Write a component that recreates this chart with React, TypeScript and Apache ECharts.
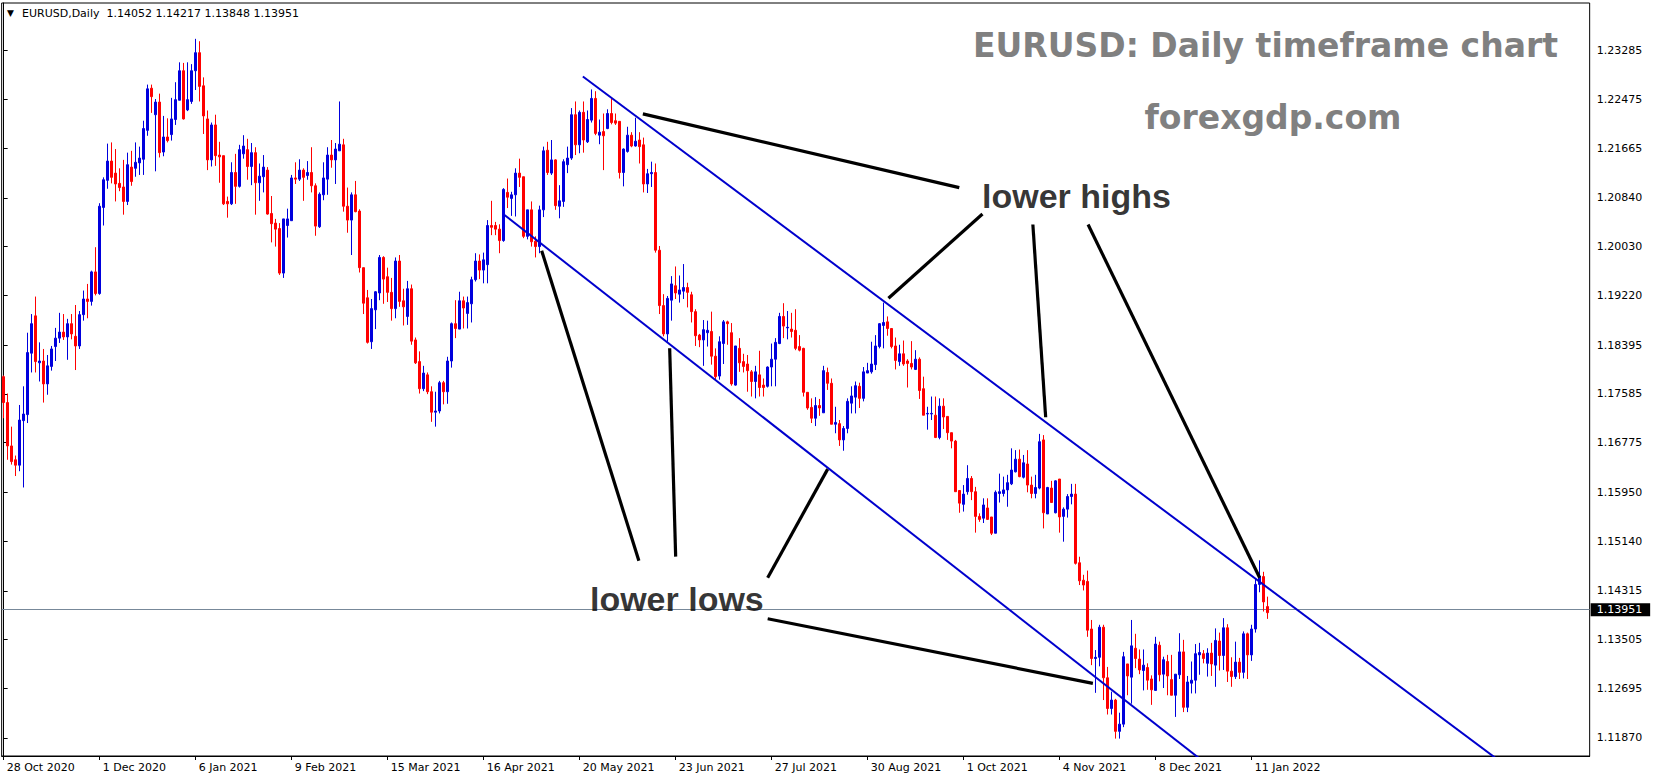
import React, { useEffect, useRef } from 'react';
import * as echarts from 'echarts';

// ---------- data ----------
const tickLabels = ['28 Oct 2020', '1 Dec 2020', '6 Jan 2021', '9 Feb 2021', '15 Mar 2021', '16 Apr 2021', '20 May 2021', '23 Jun 2021', '27 Jul 2021', '30 Aug 2021', '1 Oct 2021', '4 Nov 2021', '8 Dec 2021', '11 Jan 2022'];
const labelEvery = 24;
const slotCount = 397; // bars + empty space to the right (chart shift)

const priceTicks = [1.23285, 1.22475, 1.21665, 1.2084, 1.2003, 1.1922, 1.18395, 1.17585, 1.16775, 1.1595, 1.1514, 1.14315, 1.13505, 1.12695, 1.1187];
const priceMin = 1.11571;
const priceMax = 1.24075;
const lastPrice = 1.13951;
const headerText = 'EURUSD,Daily  1.14052 1.14217 1.13848 1.13951';

const opens = [
  1.1787, 1.1744, 1.1672, 1.1649, 1.1640, 1.1714, 1.1724, 1.1826, 1.1888, 1.1810,
  1.1813, 1.1775, 1.1804, 1.1837, 1.1851, 1.1861, 1.1853, 1.1875, 1.1854, 1.1838,
  1.1890, 1.1916, 1.1912, 1.1961, 1.1925, 1.2068, 1.2113, 1.2145, 1.2125, 1.2108,
  1.2102, 1.2078, 1.2135, 1.2133, 1.2142, 1.2148, 1.2196, 1.2266, 1.2222, 1.2243,
  1.2160, 1.2185, 1.2189, 1.2214, 1.2246, 1.2295, 1.2230, 1.2244, 1.2295, 1.2325,
  1.2270, 1.2215, 1.2147, 1.2205, 1.2155, 1.2154, 1.2078, 1.2074, 1.2126, 1.2103,
  1.2157, 1.2164, 1.2136, 1.2159, 1.2109, 1.2119, 1.2130, 1.2058, 1.2042, 1.2033,
  1.1959, 1.2038, 1.2046, 1.2117, 1.2115, 1.2130, 1.2121, 1.2126, 1.2104, 1.2036,
  1.2089, 1.2115, 1.2155, 1.2147, 1.2162, 1.2172, 1.2070, 1.2047, 1.2089, 1.2062,
  1.1968, 1.1918, 1.1845, 1.1898, 1.1926, 1.1985, 1.1953, 1.1927, 1.1900, 1.1979,
  1.1913, 1.1887, 1.1933, 1.1848, 1.1812, 1.1767, 1.1790, 1.1762, 1.1728, 1.1730,
  1.1777, 1.1762, 1.1813, 1.1875, 1.1866, 1.1913, 1.1892, 1.1908, 1.1948, 1.1979,
  1.1964, 1.1973, 1.2038, 1.2038, 1.2032, 1.2013, 1.2093, 1.2083, 1.2089, 1.2125,
  1.2119, 1.2020, 1.2064, 1.2012, 1.2003, 1.2064, 1.2163, 1.2125, 1.2147, 1.2070,
  1.2078, 1.2139, 1.2150, 1.2222, 1.2172, 1.2226, 1.2177, 1.2213, 1.2249, 1.2188,
  1.2194, 1.2199, 1.2224, 1.2212, 1.2211, 1.2126, 1.2161, 1.2188, 1.2170, 1.2180,
  1.2172, 1.2107, 1.2124, 1.2126, 1.1997, 1.1905, 1.1858, 1.1914, 1.1938, 1.1924,
  1.1929, 1.1935, 1.1923, 1.1895, 1.1856, 1.1848, 1.1860, 1.1862, 1.1821, 1.1788,
  1.1842, 1.1878, 1.1860, 1.1773, 1.1834, 1.1812, 1.1808, 1.1795, 1.1779, 1.1790,
  1.1773, 1.1771, 1.1803, 1.1816, 1.1842, 1.1887, 1.1868, 1.1866, 1.1864, 1.1837,
  1.1834, 1.1761, 1.1736, 1.1718, 1.1739, 1.1727, 1.1794, 1.1776, 1.1708, 1.1709,
  1.1682, 1.1701, 1.1743, 1.1753, 1.1771, 1.1751, 1.1793, 1.1795, 1.1807, 1.1837,
  1.1872, 1.1878, 1.1867, 1.1838, 1.1812, 1.1825, 1.1813, 1.1809, 1.1799, 1.1816,
  1.1767, 1.1725, 1.1725, 1.1723, 1.1686, 1.1738, 1.1721, 1.1694, 1.1680, 1.1598,
  1.1575, 1.1596, 1.1618, 1.1596, 1.1555, 1.1552, 1.1569, 1.1554, 1.1527, 1.1593,
  1.1593, 1.1599, 1.1609, 1.1629, 1.1650, 1.1620, 1.1642, 1.1607, 1.1593, 1.1602,
  1.1682, 1.1559, 1.1602, 1.1561, 1.1617, 1.1555, 1.1567, 1.1588, 1.1592, 1.1478,
  1.1449, 1.1447, 1.1368, 1.1319, 1.1321, 1.1371, 1.1287, 1.1236, 1.1250, 1.1198,
  1.1210, 1.1310, 1.1288, 1.1336, 1.1318, 1.1299, 1.1304, 1.1285, 1.1266, 1.1341,
  1.1293, 1.1314, 1.1284, 1.1258, 1.1292, 1.1330, 1.1238, 1.1278, 1.1283, 1.1325,
  1.1327, 1.1311, 1.1328, 1.1308, 1.1348, 1.1324, 1.1370, 1.1298, 1.1289, 1.1313,
  1.1296, 1.1360, 1.1325, 1.1368, 1.1442, 1.1455, 1.14052,
];

const highs = [
  1.1789, 1.1759, 1.1704, 1.1656, 1.1740, 1.1771, 1.1860, 1.1891, 1.1920, 1.1844,
  1.1833, 1.1823, 1.1838, 1.1868, 1.1893, 1.1891, 1.1883, 1.1891, 1.1906, 1.1896,
  1.1930, 1.1941, 1.1963, 1.2002, 1.2075, 1.2118, 1.2174, 1.2176, 1.2165, 1.2133,
  1.2147, 1.2159, 1.2162, 1.2176, 1.2169, 1.2212, 1.2272, 1.2272, 1.2248, 1.2257,
  1.2220, 1.2216, 1.2250, 1.2276, 1.2309, 1.2308, 1.2309, 1.2306, 1.2348, 1.2344,
  1.2284, 1.2229, 1.2209, 1.2222, 1.2177, 1.2154, 1.2086, 1.2143, 1.2157, 1.2172,
  1.2188, 1.2182, 1.2175, 1.2168, 1.2141, 1.2155, 1.2135, 1.2087, 1.2049, 1.2042,
  1.2049, 1.2066, 1.2122, 1.2143, 1.2148, 1.2133, 1.2145, 1.2168, 1.2108, 1.2093,
  1.2143, 1.2168, 1.2180, 1.2175, 1.2244, 1.2182, 1.2101, 1.2093, 1.2112, 1.2065,
  1.1968, 1.1931, 1.1916, 1.1929, 1.1989, 1.1987, 1.1968, 1.1951, 1.1985, 1.1989,
  1.1933, 1.1946, 1.1940, 1.1852, 1.1829, 1.1805, 1.1794, 1.1771, 1.1762, 1.1780,
  1.1780, 1.1820, 1.1877, 1.1914, 1.1928, 1.1920, 1.1920, 1.1953, 1.1992, 1.1990,
  1.1993, 1.2047, 1.2079, 1.2044, 1.2040, 1.2100, 1.2116, 1.2094, 1.2133, 1.2149,
  1.2119, 1.2064, 1.2078, 1.2020, 1.2071, 1.2169, 1.2177, 1.2180, 1.2148, 1.2105,
  1.2148, 1.2169, 1.2233, 1.2244, 1.2229, 1.2244, 1.2229, 1.2264, 1.2261, 1.2214,
  1.2224, 1.2231, 1.2249, 1.2224, 1.2211, 1.2166, 1.2202, 1.2193, 1.2217, 1.2193,
  1.2184, 1.2132, 1.2144, 1.2141, 1.2004, 1.1924, 1.1921, 1.1954, 1.1970, 1.1955,
  1.1974, 1.1943, 1.1928, 1.1899, 1.1858, 1.1881, 1.1880, 1.1895, 1.1834, 1.1854,
  1.1881, 1.1880, 1.1876, 1.1838, 1.1851, 1.1825, 1.1823, 1.1798, 1.1805, 1.1830,
  1.1784, 1.1804, 1.1842, 1.1851, 1.1893, 1.1909, 1.1896, 1.1893, 1.1899, 1.1856,
  1.1835, 1.1761, 1.1751, 1.1753, 1.1750, 1.1805, 1.1802, 1.1784, 1.1737, 1.1715,
  1.1705, 1.1751, 1.1771, 1.1779, 1.1777, 1.1803, 1.1810, 1.1845, 1.1856, 1.1876,
  1.1910, 1.1887, 1.1867, 1.1852, 1.1840, 1.1847, 1.1816, 1.1846, 1.1831, 1.1819,
  1.1787, 1.1737, 1.1754, 1.1754, 1.1751, 1.1751, 1.1721, 1.1694, 1.1682, 1.1598,
  1.1607, 1.1640, 1.1622, 1.1604, 1.1560, 1.1585, 1.1585, 1.1554, 1.1598, 1.1626,
  1.1621, 1.1624, 1.1668, 1.1665, 1.1666, 1.1657, 1.1665, 1.1621, 1.1624, 1.1692,
  1.1690, 1.1604, 1.1614, 1.1615, 1.1617, 1.1570, 1.1592, 1.1609, 1.1609, 1.1488,
  1.1458, 1.1465, 1.1383, 1.1333, 1.1375, 1.1375, 1.1305, 1.1264, 1.1252, 1.1229,
  1.1330, 1.1310, 1.1383, 1.1360, 1.1334, 1.1334, 1.1311, 1.1291, 1.1355, 1.1347,
  1.1322, 1.1325, 1.1325, 1.1293, 1.1361, 1.1350, 1.1290, 1.1314, 1.1343, 1.1345,
  1.1333, 1.1336, 1.1345, 1.1369, 1.1362, 1.1386, 1.1376, 1.1321, 1.1347, 1.1320,
  1.1364, 1.1362, 1.1375, 1.1451, 1.1482, 1.1463, 1.14217,
];

const lows = [
  1.1718, 1.1649, 1.1641, 1.1622, 1.1630, 1.1603, 1.1710, 1.1794, 1.1794, 1.1779,
  1.1744, 1.1757, 1.1797, 1.1813, 1.1843, 1.1848, 1.1815, 1.1849, 1.1798, 1.1833,
  1.1880, 1.1884, 1.1905, 1.1922, 1.1923, 1.2038, 1.2099, 1.2108, 1.2078, 1.2095,
  1.2056, 1.2072, 1.2104, 1.2119, 1.2122, 1.2122, 1.2187, 1.2225, 1.2128, 1.2151,
  1.2153, 1.2176, 1.2179, 1.2205, 1.2246, 1.2214, 1.2228, 1.2240, 1.2263, 1.2244,
  1.2190, 1.2130, 1.2136, 1.2137, 1.2109, 1.2072, 1.2051, 1.2072, 1.2074, 1.2101,
  1.2149, 1.2114, 1.2105, 1.2056, 1.2079, 1.2093, 1.2056, 1.2010, 1.2003, 1.1956,
  1.1951, 1.2018, 1.2046, 1.2107, 1.2112, 1.2079, 1.2114, 1.2093, 1.2021, 1.2034,
  1.2080, 1.2089, 1.2134, 1.2107, 1.2162, 1.2061, 1.2026, 1.1989, 1.2060, 1.1960,
  1.1891, 1.1842, 1.1833, 1.1866, 1.1914, 1.1908, 1.1911, 1.1880, 1.1884, 1.1903,
  1.1872, 1.1873, 1.1840, 1.1808, 1.1759, 1.1763, 1.1758, 1.1712, 1.1704, 1.1726,
  1.1741, 1.1742, 1.1802, 1.1851, 1.1866, 1.1867, 1.1867, 1.1877, 1.1945, 1.1949,
  1.1942, 1.1942, 1.2022, 1.2022, 1.1992, 1.2011, 1.2067, 1.2054, 1.2053, 1.2102,
  1.2017, 1.2015, 1.2003, 1.1985, 1.1992, 1.2052, 1.2122, 1.2122, 1.2064, 1.2050,
  1.2069, 1.2125, 1.2147, 1.2155, 1.2158, 1.2159, 1.2175, 1.2209, 1.2188, 1.2173,
  1.2130, 1.2198, 1.2206, 1.2205, 1.2116, 1.2103, 1.2159, 1.2168, 1.2169, 1.2141,
  1.2093, 1.2092, 1.2102, 1.1993, 1.1891, 1.1854, 1.1845, 1.1880, 1.1916, 1.1910,
  1.1916, 1.1902, 1.1877, 1.1838, 1.1836, 1.1805, 1.1837, 1.1807, 1.1783, 1.1782,
  1.1808, 1.1840, 1.1772, 1.1772, 1.1795, 1.1794, 1.1762, 1.1754, 1.1751, 1.1754,
  1.1754, 1.1769, 1.1771, 1.1771, 1.1841, 1.1851, 1.1849, 1.1852, 1.1831, 1.1829,
  1.1754, 1.1732, 1.1710, 1.1705, 1.1722, 1.1727, 1.1765, 1.1708, 1.1693, 1.1672,
  1.1664, 1.1693, 1.1726, 1.1726, 1.1735, 1.1746, 1.1793, 1.1792, 1.1798, 1.1834,
  1.1834, 1.1855, 1.1834, 1.1799, 1.1805, 1.1805, 1.1769, 1.1799, 1.1798, 1.1750,
  1.1723, 1.1699, 1.1715, 1.1685, 1.1683, 1.1700, 1.1682, 1.1668, 1.1596, 1.1561,
  1.1563, 1.1591, 1.1582, 1.1528, 1.1546, 1.1544, 1.1549, 1.1524, 1.1527, 1.1578,
  1.1588, 1.1571, 1.1607, 1.1628, 1.1620, 1.1618, 1.1595, 1.1585, 1.1585, 1.1600,
  1.1535, 1.1559, 1.1578, 1.1560, 1.1528, 1.1513, 1.1553, 1.1575, 1.1475, 1.1441,
  1.1432, 1.1355, 1.1308, 1.1262, 1.1306, 1.1250, 1.1226, 1.1226, 1.1186, 1.1186,
  1.1205, 1.1258, 1.1244, 1.1303, 1.1293, 1.1266, 1.1267, 1.1242, 1.1266, 1.1281,
  1.1270, 1.1258, 1.1258, 1.1222, 1.1285, 1.1230, 1.1230, 1.1261, 1.1261, 1.1292,
  1.1311, 1.1289, 1.1290, 1.1272, 1.1299, 1.1300, 1.1280, 1.1272, 1.1285, 1.1285,
  1.1286, 1.1285, 1.1315, 1.1362, 1.1429, 1.1397, 1.13848,
];

const closes = [
  1.1744, 1.1672, 1.1646, 1.1640, 1.1715, 1.1725, 1.1827, 1.1875, 1.1812, 1.1813,
  1.1775, 1.1805, 1.1833, 1.1851, 1.1861, 1.1853, 1.1875, 1.1858, 1.1838, 1.1890,
  1.1916, 1.1912, 1.1961, 1.1925, 1.2070, 1.2114, 1.2145, 1.2118, 1.2107, 1.2101,
  1.2078, 1.2139, 1.2111, 1.2143, 1.2150, 1.2199, 1.2265, 1.2252, 1.2243, 1.2159,
  1.2185, 1.2179, 1.2215, 1.2247, 1.2295, 1.2215, 1.2247, 1.2295, 1.2325, 1.2269,
  1.2220, 1.2147, 1.2205, 1.2154, 1.2152, 1.2074, 1.2074, 1.2126, 1.2103, 1.2164,
  1.2170, 1.2136, 1.2159, 1.2109, 1.2120, 1.2135, 1.2057, 1.2041, 1.2032, 1.1959,
  1.2049, 1.2049, 1.2117, 1.2115, 1.2130, 1.2118, 1.2126, 1.2104, 1.2037, 1.2090,
  1.2117, 1.2155, 1.2147, 1.2165, 1.2173, 1.2070, 1.2047, 1.2089, 1.2061, 1.1968,
  1.1909, 1.1844, 1.1900, 1.1928, 1.1985, 1.1949, 1.1927, 1.1900, 1.1979, 1.1912,
  1.1903, 1.1933, 1.1846, 1.1810, 1.1767, 1.1793, 1.1762, 1.1728, 1.1730, 1.1777,
  1.1762, 1.1813, 1.1875, 1.1867, 1.1913, 1.1901, 1.1910, 1.1948, 1.1979, 1.1964,
  1.1981, 1.2038, 1.2035, 1.2032, 1.2013, 1.2098, 1.2085, 1.2089, 1.2125, 1.2118,
  1.2020, 1.2064, 1.2011, 1.2003, 1.2064, 1.2162, 1.2126, 1.2147, 1.2071, 1.2079,
  1.2144, 1.2150, 1.2222, 1.2172, 1.2226, 1.2180, 1.2214, 1.2249, 1.2191, 1.2193,
  1.2187, 1.2224, 1.2209, 1.2208, 1.2126, 1.2165, 1.2188, 1.2170, 1.2178, 1.2169,
  1.2107, 1.2124, 1.2126, 1.1997, 1.1905, 1.1858, 1.1917, 1.1941, 1.1926, 1.1931,
  1.1935, 1.1927, 1.1895, 1.1855, 1.1848, 1.1865, 1.1864, 1.1821, 1.1787, 1.1845,
  1.1878, 1.1875, 1.1775, 1.1838, 1.1810, 1.1804, 1.1797, 1.1779, 1.1795, 1.1769,
  1.1769, 1.1803, 1.1816, 1.1844, 1.1887, 1.1871, 1.1869, 1.1862, 1.1834, 1.1831,
  1.1761, 1.1735, 1.1718, 1.1739, 1.1735, 1.1797, 1.1776, 1.1708, 1.1711, 1.1682,
  1.1701, 1.1746, 1.1755, 1.1772, 1.1751, 1.1795, 1.1797, 1.1808, 1.1838, 1.1875,
  1.1877, 1.1867, 1.1837, 1.1814, 1.1825, 1.1808, 1.1809, 1.1803, 1.1816, 1.1764,
  1.1723, 1.1726, 1.1726, 1.1686, 1.1738, 1.1720, 1.1694, 1.1680, 1.1596, 1.1577,
  1.1592, 1.1618, 1.1596, 1.1555, 1.1550, 1.1574, 1.1550, 1.1527, 1.1595, 1.1596,
  1.1599, 1.1611, 1.1632, 1.1650, 1.1621, 1.1644, 1.1607, 1.1593, 1.1603, 1.1679,
  1.1561, 1.1603, 1.1578, 1.1614, 1.1554, 1.1567, 1.1588, 1.1592, 1.1477, 1.1448,
  1.1441, 1.1366, 1.1319, 1.1321, 1.1371, 1.1287, 1.1236, 1.1250, 1.1198, 1.1210,
  1.1322, 1.1290, 1.1340, 1.1319, 1.1300, 1.1308, 1.1283, 1.1267, 1.1343, 1.1292,
  1.1317, 1.1290, 1.1258, 1.1293, 1.1330, 1.1238, 1.1280, 1.1283, 1.1327, 1.1329,
  1.1319, 1.1328, 1.1310, 1.1349, 1.1324, 1.1370, 1.1298, 1.1289, 1.1313, 1.1296,
  1.1360, 1.1325, 1.1368, 1.1442, 1.1455, 1.1413, 1.13951,
];

// trend lines: [bar index, price]
const upperChannel = [[144.8, 1.22855], [380, 1.11189]];
const lowerChannel = [[125.2, 1.20555], [310, 1.10956]];
const highPointers = [
  [[238.9, 1.2101], [159.8, 1.22234]],
  [[244.7, 1.20572], [221.2, 1.19172]],
  [[257.3, 1.20397], [260.5, 1.17196]],
  [[271.1, 1.20397], [314.0, 1.14532]],
];
const lowPointers = [
  [[158.8, 1.14813], [134.5, 1.19962]],
  [[168.0, 1.14882], [166.5, 1.18341]],
  [[191.0, 1.14532], [206.0, 1.16335]],
  [[191.0, 1.1385], [272.3, 1.12778]],
];
const annotations = [
  { name: 'lower highs', value: [268.2, 1.2087] },
  { name: 'lower lows', value: [168.3, 1.1418] },
];

const BULL = '#0000DD';
const BEAR = '#FF0000';
const CHANNEL = '#0000CD';
const AXIS_FONT = 'DejaVu Sans';

export default function App() {
  const ref = useRef<HTMLDivElement>(null);

  useEffect(() => {
    document.body.style.margin = '0';
    if (!ref.current) return;
    const chart = echarts.init(ref.current, undefined, { renderer: 'svg' });

    const categories = Array.from({ length: slotCount }, (_, i) => String(i));
    const showLabel = (idx: number) => idx % labelEvery === 0 && idx / labelEvery < tickLabels.length;
    const candles = opens.map((o, i) => [o, closes[i], lows[i], highs[i]]);

    const pointerSeries = [...highPointers, ...lowPointers].map((seg) => ({
      type: 'line',
      xAxisIndex: 1,
      yAxisIndex: 0,
      data: seg,
      symbol: 'none',
      silent: true,
      lineStyle: { color: '#000', width: 3.2 },
      z: 4,
    }));

    chart.setOption({
      animation: false,
      backgroundColor: '#ffffff',
      grid: {
        left: 1.67,
        right: 63.33,
        top: 3,
        bottom: 24,
        show: true,
        borderColor: '#000',
        borderWidth: 1,
        backgroundColor: '#fff',
      },
      xAxis: [
        {
          type: 'category',
          data: categories,
          boundaryGap: true,
          axisLine: { show: true, lineStyle: { color: '#000', width: 1 } },
          axisTick: {
            show: true,
            alignWithLabel: true,
            interval: (idx: number) => showLabel(idx),
            length: 4,
            lineStyle: { color: '#000' },
          },
          axisLabel: {
            interval: (idx: number) => showLabel(idx),
            formatter: (_v: string, idx: number) => tickLabels[idx / labelEvery] ?? '',
            align: 'left',
            margin: 6,
            padding: [0, 0, 0, 3],
            color: '#000',
            fontFamily: AXIS_FONT,
            fontSize: 11,
          },
          splitLine: { show: false },
        },
        { type: 'value', min: -0.5, max: slotCount - 0.5, show: false },
      ],
      yAxis: {
        type: 'value',
        position: 'right',
        min: priceMin,
        max: priceMax,
        axisLine: { show: true, lineStyle: { color: '#000', width: 1 } },
        axisTick: { show: true, customValues: priceTicks, length: 4, lineStyle: { color: '#000' } },
        axisLabel: {
          customValues: priceTicks,
          formatter: (v: number) => v.toFixed(5),
          margin: 7,
          color: '#000',
          fontFamily: AXIS_FONT,
          fontSize: 11,
        },
        splitLine: { show: false },
      },
      series: [
        {
          type: 'candlestick',
          data: candles,
          barWidth: 2,
          itemStyle: {
            color: BULL,
            color0: BEAR,
            borderColor: BULL,
            borderColor0: BEAR,
            borderWidth: 1,
          },
          z: 2,
          markLine: {
            silent: true,
            symbol: ['none', 'none'],
            animation: false,
            data: [{ yAxis: lastPrice }],
            lineStyle: { color: '#778899', width: 1, type: 'solid' },
            label: {
              show: true,
              position: 'end',
              distance: 1,
              formatter: lastPrice.toFixed(5),
              backgroundColor: '#000',
              color: '#fff',
              padding: [1, 8, 1, 6],
              fontFamily: AXIS_FONT,
              fontSize: 11,
            },
            z: 1,
          },
        },
        {
          type: 'line',
          xAxisIndex: 1,
          data: upperChannel,
          symbol: 'none',
          silent: true,
          clip: true,
          lineStyle: { color: CHANNEL, width: 2 },
          z: 3,
        },
        {
          type: 'line',
          xAxisIndex: 1,
          data: lowerChannel,
          symbol: 'none',
          silent: true,
          clip: true,
          lineStyle: { color: CHANNEL, width: 2 },
          z: 3,
        },
        ...pointerSeries,
        {
          type: 'scatter',
          xAxisIndex: 1,
          data: annotations,
          symbol: 'circle',
          symbolSize: 1,
          itemStyle: { color: 'rgba(0,0,0,0)' },
          silent: true,
          z: 5,
          label: {
            show: true,
            position: 'inside',
            formatter: '{b}',
            color: '#000',
            fontFamily: 'Liberation Sans',
            fontWeight: 'bold',
            fontSize: 34,
          },
        },
      ],
      graphic: [
        {
          type: 'text',
          x: 7,
          y: 13,
          style: { text: '\u25BC', fontSize: 9, fill: '#000', fontFamily: AXIS_FONT, align: 'left', verticalAlign: 'middle' },
        },
        {
          type: 'text',
          x: 22,
          y: 13,
          style: { text: headerText, fontSize: 11, fill: '#000', fontFamily: AXIS_FONT, align: 'left', verticalAlign: 'middle' },
        },
        {
          type: 'text',
          x: 1558,
          y: 45,
          style: {
            text: 'EURUSD: Daily timeframe chart',
            fontSize: 33,
            fontWeight: 'bold',
            fill: '#808080',
            fontFamily: 'DejaVu Sans',
            align: 'right',
            verticalAlign: 'middle',
          },
        },
        {
          type: 'text',
          x: 1273,
          y: 117,
          style: {
            text: 'forexgdp.com',
            fontSize: 33,
            fontWeight: 'bold',
            fill: '#808080',
            fontFamily: 'DejaVu Sans',
            align: 'center',
            verticalAlign: 'middle',
          },
        },
      ],
    });

    return () => chart.dispose();
  }, []);

  return <div ref={ref} style={{ width: 1653, height: 780 }} />;
}
